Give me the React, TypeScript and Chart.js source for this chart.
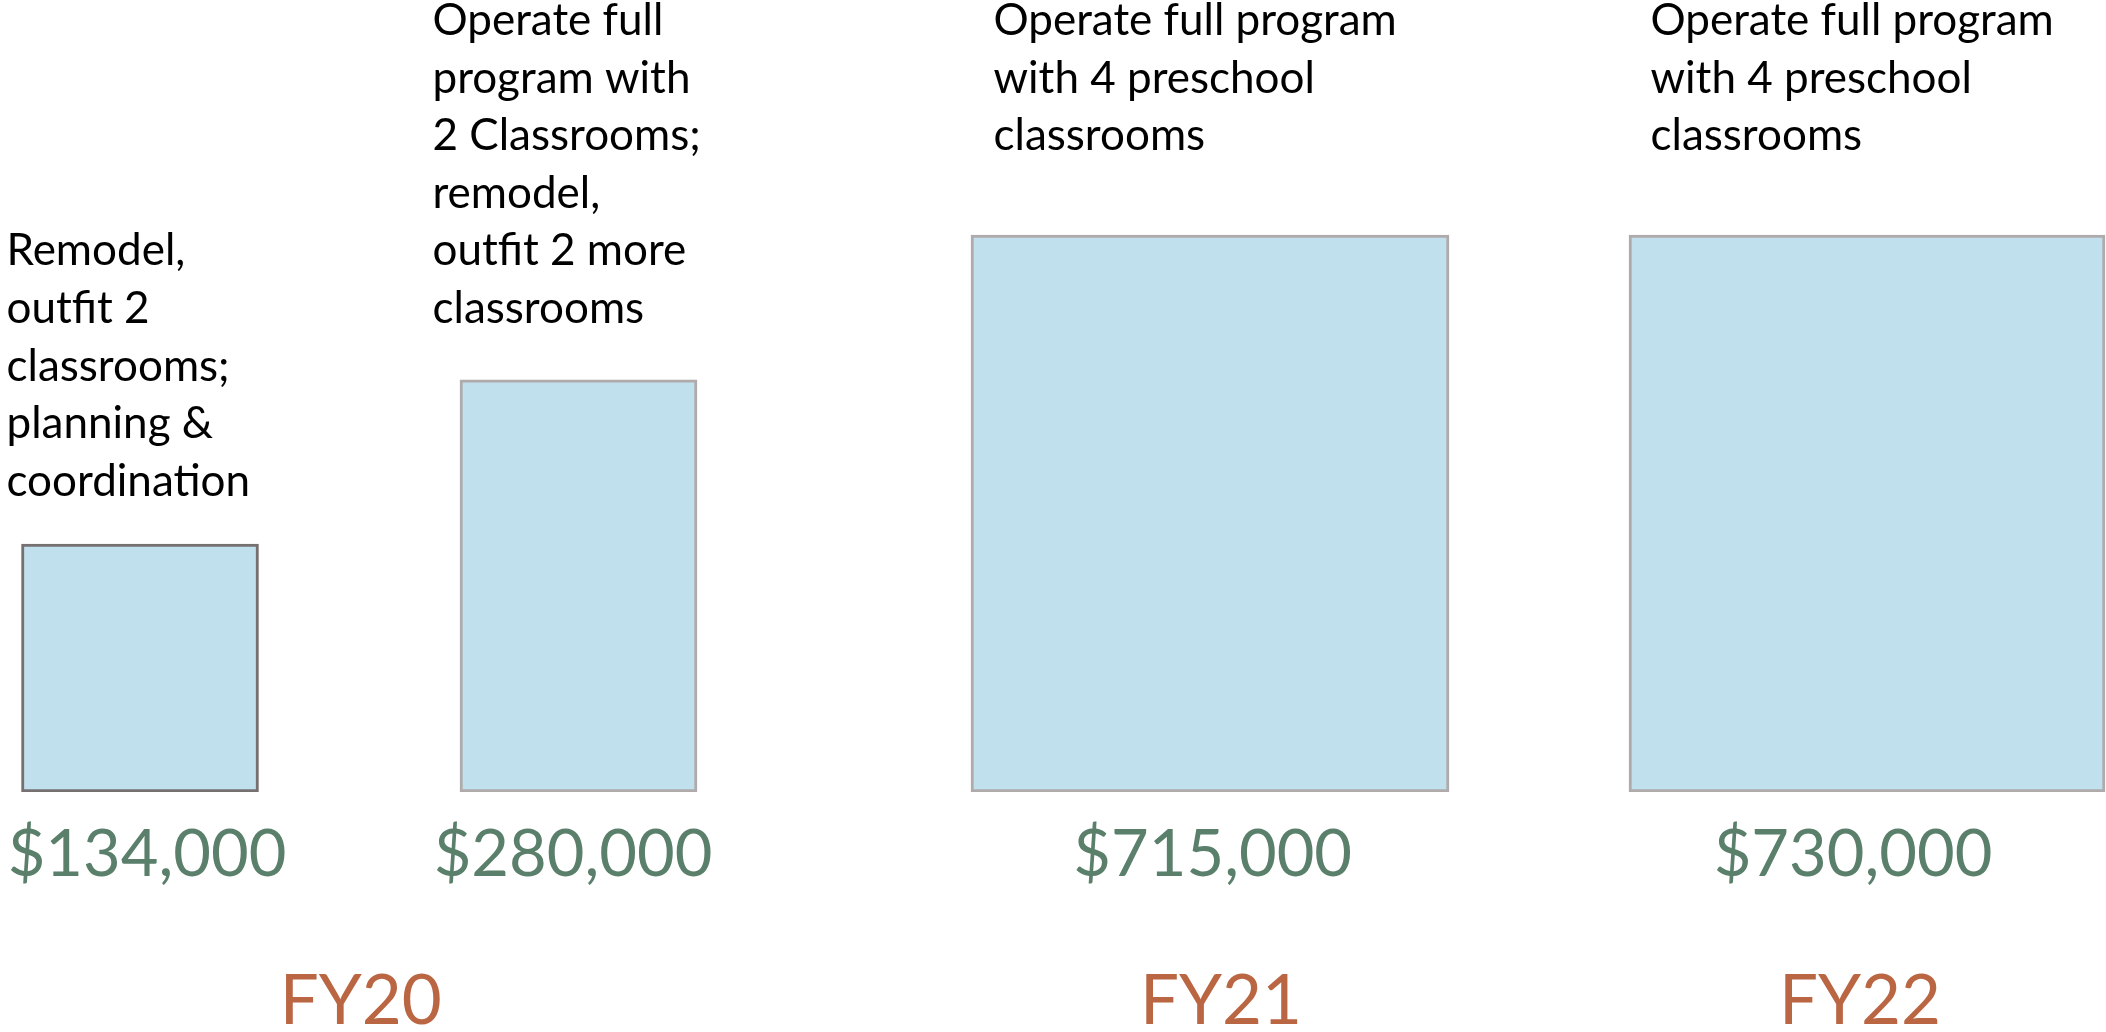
import React, { useEffect, useRef } from "react";
import { Chart, registerables } from "chart.js";

Chart.register(...registerables);

// ---------------- data ----------------
const fiscalYears = ["FY20", "FY21", "FY22"];
// which fiscal year each box belongs to (index into fiscalYears)
const boxYear = [0, 0, 1, 2];
// dollar amounts shown under each box
const amounts = [134000, 280000, 715000, 730000];
// relative drawn size of each box (FY21 / FY22 box = 100)
const boxSizes = [44.5, 74, 100, 100];
// description text above each box (one entry per line)
const descriptions = [
  ["Remodel,", "outfit 2", "classrooms;", "planning &", "coordination"],
  ["Operate full", "program with", "2 Classrooms;", "remodel,", "outfit 2 more", "classrooms"],
  ["Operate full program", "with 4 preschool", "classrooms"],
  ["Operate full program", "with 4 preschool", "classrooms"],
];

// ---------------- layout & style ----------------
const W = 2106;
const H = 1032;
const slotCenters = [140, 578.5, 1210, 1867]; // x-scale positions of the boxes
const slotWidths = [237, 237, 478, 476]; // box widths (px)
const BASE_Y = 792; // bottom of the boxes
const Y_MAX = 142.2;
const FILL = "#C1E0EE";
const borderColors = ["#767171", "#AFABAB", "#AFABAB", "#AFABAB"];
const borderWidths = [3, 3, 3, 3];

const FONT = "Lato, 'Open Sans', sans-serif";
const DESC_SIZE = 44;
const DESC_FIRST_BASELINE = 35;
const DESC_LINE_H = 57.6;
const descLineStart = [4, 0, 0, 0];
const descDx = [-15, -27.5, 22.5, 21.5];

const AMOUNT_SIZE = 65;
const AMOUNT_BASELINE = 876;
const amountDx = [7, -5.5, 2.7, -14];
const AMOUNT_COLOR = "#5A7F6B";

const YEAR_SIZE = 69;
const YEAR_BASELINE = 1024;
const yearDx = [1.5, 11, -7];
const YEAR_COLOR = "#BA6643";

const fmt = (v: number) => "$" + v.toLocaleString("en-US");

const labelPlugin = {
  id: "boxLabels",
  afterDatasetsDraw(chart: any) {
    const ctx = chart.ctx as CanvasRenderingContext2D;
    const bars = amounts.map((_, i) => chart.getDatasetMeta(i).data[0]);
    ctx.save();
    ctx.textBaseline = "alphabetic";

    // descriptions
    ctx.font = `${DESC_SIZE}px ${FONT}`;
    ctx.fillStyle = "#000000";
    ctx.textAlign = "left";
    bars.forEach((bar: any, i: number) => {
      const left = bar.x - bar.width / 2 + descDx[i];
      descriptions[i].forEach((line, k) => {
        ctx.fillText(line, left, DESC_FIRST_BASELINE + (descLineStart[i] + k) * DESC_LINE_H);
      });
    });

    // amounts
    ctx.font = `${AMOUNT_SIZE}px ${FONT}`;
    ctx.fillStyle = AMOUNT_COLOR;
    ctx.textAlign = "center";
    bars.forEach((bar: any, i: number) => {
      ctx.fillText(fmt(amounts[i]), bar.x + amountDx[i], AMOUNT_BASELINE);
    });

    // fiscal years
    ctx.font = `${YEAR_SIZE}px ${FONT}`;
    ctx.fillStyle = YEAR_COLOR;
    fiscalYears.forEach((fy, j) => {
      const xs = bars.filter((_: any, i: number) => boxYear[i] === j).map((b: any) => b.x);
      const cx = xs.reduce((a: number, b: number) => a + b, 0) / xs.length;
      ctx.fillText(fy, cx + yearDx[j], YEAR_BASELINE);
    });
    ctx.restore();
  },
};

export default function App() {
  const ref = useRef<HTMLCanvasElement | null>(null);

  useEffect(() => {
    if (!ref.current) return;
    const chart = new Chart(ref.current, {
      type: "bar",
      data: {
        datasets: amounts.map((amt, i) => ({
          label: `${fiscalYears[boxYear[i]]} ${fmt(amt)}`,
          data: [{ x: slotCenters[i], y: boxSizes[i] }],
          barThickness: slotWidths[i],
          grouped: false,
          backgroundColor: FILL,
          borderColor: borderColors[i],
          borderWidth: borderWidths[i],
          borderSkipped: false,
        })),
      } as any,
      options: {
        responsive: false,
        animation: false,
        devicePixelRatio: 1,
        layout: { padding: { left: 0, right: 0, top: 0, bottom: H - BASE_Y } },
        plugins: { legend: { display: false }, tooltip: { enabled: false } },
        scales: {
          x: { type: "linear", min: 0, max: W, display: false, offset: false },
          y: { type: "linear", min: 0, max: Y_MAX, display: false },
        },
      } as any,
      plugins: [labelPlugin],
    });
    return () => chart.destroy();
  }, []);

  return (
    <div style={{ position: "fixed", left: 0, top: 0, width: W, height: H, background: "#ffffff" }}>
      <canvas ref={ref} width={W} height={H} style={{ width: W, height: H, display: "block" }} />
    </div>
  );
}
